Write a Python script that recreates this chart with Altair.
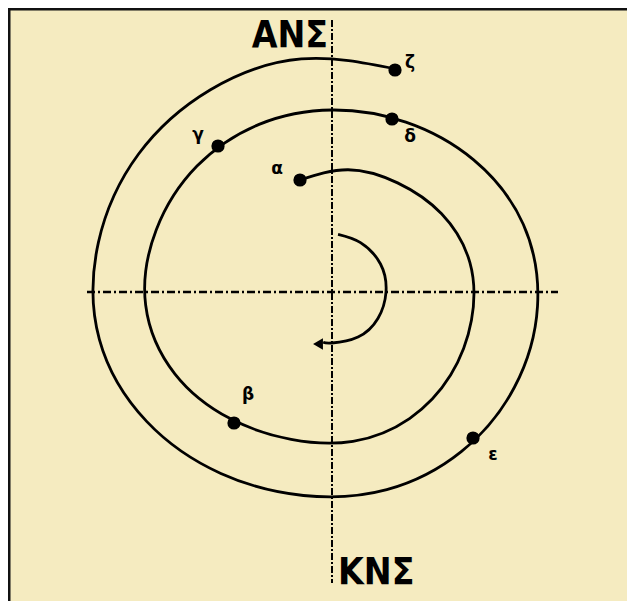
import altair as alt
import numpy as np
import pandas as pd

# Spiral path, from point α round to point ζ (clockwise):
# polar angle (deg, counter-clockwise from +x) and radius (px) about the axes crossing
spiral_angle = [106, 82.5, 59, 35.5, 12, -11.5, -35, -58.5, -82, -105.5, -129,
                -152.5, -176, -199.5, -223, -246.5, -270, -293.5, -317, -340.5,
                -364, -387.5, -411, -434.5, -458, -481.5, -505, -528.5, -552,
                -575.5, -599, -622.5, -646]
spiral_radius = [116.5, 123.3, 127.3, 134.6, 141.0, 142.3, 144.8, 148.4, 150.8,
                 152.9, 162.6, 177.2, 186.8, 186.4, 184.6, 182.8, 182.0, 185.2,
                 193.7, 202.9, 206.0, 205.8, 205.4, 205.1, 205.5, 212.8, 226.0,
                 237.4, 238.8, 237.6, 236.0, 235.1, 232.0]

# Small rotation arrow in the centre
arrow_angle = [84, 60, 30, 0, -30, -60, -90, -100]
arrow_radius = [58, 57, 56, 54, 53, 52, 51, 51]

# Points on the spiral and their labels
dot_names = ["α", "β", "γ", "δ", "ε", "ζ"]
dot_x = [-32, -98, -114, 60, 141, 63]
dot_y = [112, -131, 146, 173, -146, 222]
label_x = [-55, -84, -134, 78, 161, 78]
label_y = [123, -103, 157, 155, -163, 229]

# Axis names
axis_names = ["ΑΝΣ", "ΚΝΣ"]
axis_name_x = [-4, 6]
axis_name_y = [245, -292]
axis_align = ["right", "left"]

W, H = 619, 593
xs = alt.Scale(domain=[-324, 295], nice=False, zero=False)
ys = alt.Scale(domain=[-309, 284], nice=False, zero=False)

a = np.deg2rad(spiral_angle)
spiral = pd.DataFrame({"x": np.array(spiral_radius) * np.cos(a),
                       "y": np.array(spiral_radius) * np.sin(a),
                       "i": range(len(spiral_angle))})
b = np.deg2rad(arrow_angle)
arrow = pd.DataFrame({"x": np.array(arrow_radius) * np.cos(b),
                      "y": np.array(arrow_radius) * np.sin(b),
                      "i": range(len(arrow_angle))})
dots = pd.DataFrame({"name": dot_names, "x": dot_x, "y": dot_y,
                     "lx": label_x, "ly": label_y})
names = pd.DataFrame({"name": axis_names, "x": axis_name_x, "y": axis_name_y,
                      "align": axis_align})

X = lambda f: alt.X(f, scale=xs, axis=None)
Y = lambda f: alt.Y(f, scale=ys, axis=None)

frame = alt.Chart(pd.DataFrame({"x": [-324, -324], "x2": [295, -324],
                                "y": [284, 284], "y2": [284, -309]})).mark_rule(
    color="#111111", strokeWidth=5
).encode(x=X("x:Q"), x2="x2:Q", y=Y("y:Q"), y2="y2:Q")

vline = alt.Chart(pd.DataFrame({"x": [0], "y": [272], "y2": [-291]})).mark_rule(
    color="black", strokeWidth=2, strokeDash=[7, 2, 2, 2]
).encode(x=X("x:Q"), y=Y("y:Q"), y2="y2:Q")

hline = alt.Chart(pd.DataFrame({"x": [-245], "x2": [226], "y": [0]})).mark_rule(
    color="black", strokeWidth=2.5, strokeDash=[8, 3, 2, 3]
).encode(x=X("x:Q"), x2="x2:Q", y=Y("y:Q"))

spiral_line = alt.Chart(spiral).mark_line(
    color="black", strokeWidth=2.8, interpolate="natural"
).encode(x=X("x:Q"), y=Y("y:Q"), order="i:Q")

arrow_line = alt.Chart(arrow).mark_line(
    color="black", strokeWidth=2.8, interpolate="natural"
).encode(x=X("x:Q"), y=Y("y:Q"), order="i:Q")

arrow_head = alt.Chart(pd.DataFrame({"x": [-14], "y": [-52]})).mark_point(
    shape="triangle-left", filled=True, color="black", size=130, opacity=1
).encode(x=X("x:Q"), y=Y("y:Q"))

dot_marks = alt.Chart(dots).mark_circle(color="black", size=175, opacity=1).encode(
    x=X("x:Q"), y=Y("y:Q"))

dot_labels = alt.Chart(dots).mark_text(
    font="DejaVu Sans", fontWeight="bold", fontSize=17, color="black",
    align="center", baseline="middle"
).encode(x=X("lx:Q"), y=Y("ly:Q"), text="name:N")

font_stack = "Liberation Sans Narrow, DejaVu Sans Condensed, Arial Narrow, Roboto, sans-serif"
name_right = alt.Chart(names[names["align"] == "right"]).mark_text(
    font=font_stack, fontWeight="bold", fontSize=37, color="black",
    align="right", baseline="alphabetic"
).encode(x=X("x:Q"), y=Y("y:Q"), text="name:N")

name_left = alt.Chart(names[names["align"] == "left"]).mark_text(
    font=font_stack, fontWeight="bold", fontSize=37, color="black",
    align="left", baseline="alphabetic"
).encode(x=X("x:Q"), y=Y("y:Q"), text="name:N")

chart = alt.layer(
    frame, vline, hline, spiral_line, arrow_line, arrow_head, dot_marks,
    dot_labels, name_right, name_left
).properties(
    width=W, height=H, background="#F5EBC0",
    autosize=alt.AutoSizeParams(type="none"), padding=0
).configure_view(strokeWidth=0)

chart.save("out.html", embed_options={"renderer": "svg", "actions": False})
